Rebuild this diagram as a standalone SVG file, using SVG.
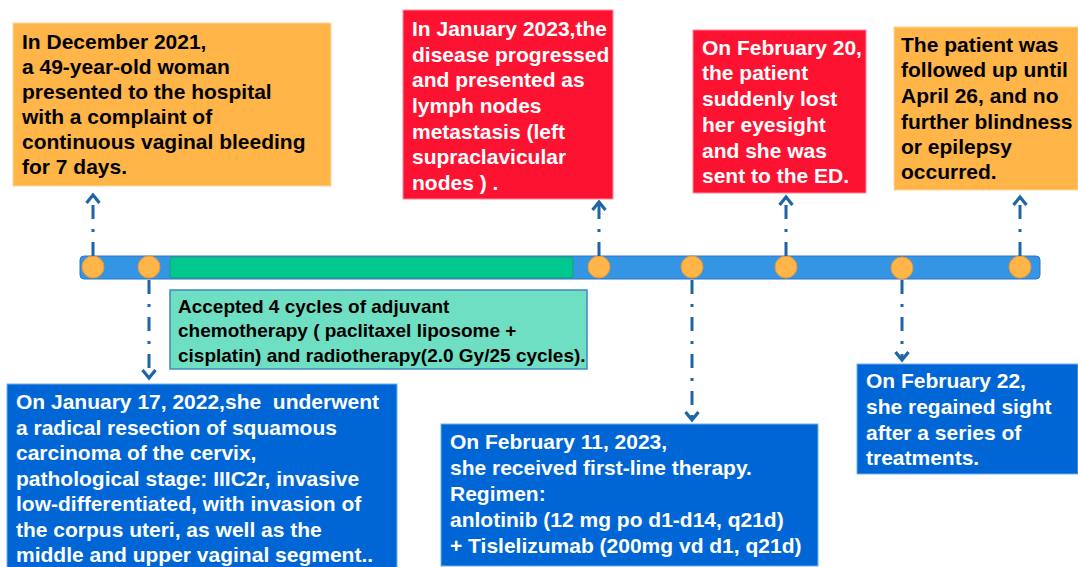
<svg xmlns="http://www.w3.org/2000/svg" width="1078" height="567" viewBox="0 0 1078 567">
<defs>
<style>
.t{font-family:"Liberation Sans",Arial,sans-serif;font-weight:bold;font-size:21px;white-space:pre}
.k{fill:#000}
.w{fill:#fff}
.org{fill:#FFB547;stroke:#FFD59A;stroke-width:1}
.red{fill:#FE1231;stroke:#FF8A9A;stroke-width:1}
.blu{fill:#0066D5;stroke:#6FB2F0;stroke-width:1}
.dot{fill:#FFB547;stroke:#E8943A;stroke-width:1}
.con{stroke:#1E64A6;stroke-width:3;fill:none;stroke-dasharray:14 10 3 10}
</style>
<marker id="ah" markerUnits="userSpaceOnUse" viewBox="-10 -10 20 20" markerWidth="20" markerHeight="20" refX="0" refY="0" orient="auto" overflow="visible">
<path d="M-8,-6.5 L0,0 L-8,6.5" fill="none" stroke="#1E64A6" stroke-width="3.2" stroke-linejoin="miter"/>
</marker>
</defs>
<rect width="1078" height="567" fill="#fff"/>

<g id="timeline">
<rect x="80" y="256" width="960" height="23" rx="4" fill="#3595E5" stroke="#2F74C0" stroke-width="1"/>
<rect x="170" y="257" width="403" height="21" rx="3" fill="#00C88F" stroke="#1F9A78" stroke-width="1"/>
<circle class="dot" cx="93" cy="267" r="11"/>
<circle class="dot" cx="149" cy="267" r="11"/>
<circle class="dot" cx="599" cy="267" r="11"/>
<circle class="dot" cx="692" cy="267" r="11"/>
<circle class="dot" cx="786" cy="267" r="11"/>
<circle class="dot" cx="902" cy="268" r="11"/>
<circle class="dot" cx="1020" cy="267" r="11"/>
</g>

<g id="connectors">
<path class="con" d="M93,256 V195" marker-end="url(#ah)"/>
<path class="con" d="M599,256 V202" marker-end="url(#ah)"/>
<path class="con" d="M786,256 V197" marker-end="url(#ah)"/>
<path class="con" d="M1020,256 V197" marker-end="url(#ah)"/>
<path class="con" d="M149,280 V378" marker-end="url(#ah)"/>
<path class="con" d="M692,280 V420" marker-end="url(#ah)"/>
<path class="con" d="M902,280 V360" marker-end="url(#ah)"/>
</g>

<g id="n-dec2021">
<rect class="org" x="13" y="23" width="318" height="163"/>
<text class="t k" x="22" y="49">In December 2021,</text>
<text class="t k" x="22" y="74">a 49-year-old woman</text>
<text class="t k" x="22" y="99">presented to the hospital</text>
<text class="t k" x="22" y="124">with a complaint of</text>
<text class="t k" x="22" y="149">continuous vaginal bleeding</text>
<text class="t k" x="22" y="174">for 7 days.</text>
</g>

<g id="n-jan2023">
<rect class="red" x="403" y="10" width="210" height="189"/>
<text class="t w" x="412" y="36">In January 2023,the</text>
<text class="t w" x="412" y="62">disease progressed</text>
<text class="t w" x="412" y="87">and presented as</text>
<text class="t w" x="412" y="113">lymph nodes</text>
<text class="t w" x="412" y="139">metastasis (left</text>
<text class="t w" x="412" y="164">supraclavicular</text>
<text class="t w" x="412" y="190">nodes ) .</text>
</g>

<g id="n-feb20">
<rect class="red" x="693" y="30" width="173" height="163"/>
<text class="t w" x="702" y="55">On February 20,</text>
<text class="t w" x="702" y="80">the patient</text>
<text class="t w" x="702" y="106">suddenly lost</text>
<text class="t w" x="702" y="132">her eyesight</text>
<text class="t w" x="702" y="158">and she was</text>
<text class="t w" x="702" y="183">sent to the ED.</text>
</g>

<g id="n-apr26">
<rect class="org" x="894" y="27" width="184" height="163"/>
<text class="t k" x="901" y="52">The patient was</text>
<text class="t k" x="901" y="77">followed up until</text>
<text class="t k" x="901" y="103">April 26, and no</text>
<text class="t k" x="901" y="129">further blindness</text>
<text class="t k" x="901" y="154">or epilepsy</text>
<text class="t k" x="901" y="179">occurred.</text>
</g>

<g id="n-chemo">
<rect x="170" y="290" width="417" height="79" fill="#6FDFC4" stroke="#3F8BC0" stroke-width="1.5"/>
<text class="t k" x="178" y="313" style="font-size:19px">Accepted 4 cycles of adjuvant</text>
<text class="t k" x="178" y="337" style="font-size:19px">chemotherapy ( paclitaxel liposome +</text>
<text class="t k" x="178" y="362" style="font-size:19px">cisplatin) and radiotherapy(2.0 Gy/25 cycles).</text>
</g>

<g id="n-jan2022">
<rect class="blu" x="7" y="384" width="390" height="190"/>
<text class="t w" x="16" y="409" xml:space="preserve">On January 17, 2022,she  underwent</text>
<text class="t w" x="16" y="435">a radical resection of squamous</text>
<text class="t w" x="16" y="460">carcinoma of the cervix,</text>
<text class="t w" x="16" y="486">pathological stage: IIIC2r, invasive</text>
<text class="t w" x="16" y="511">low-differentiated, with invasion of</text>
<text class="t w" x="16" y="537">the corpus uteri, as well as the</text>
<text class="t w" x="16" y="562">middle and upper vaginal segment..</text>
</g>

<g id="n-feb11">
<rect class="blu" x="441" y="424" width="377" height="142"/>
<text class="t w" x="450" y="449">On February 11, 2023,</text>
<text class="t w" x="450" y="475">she received first-line therapy.</text>
<text class="t w" x="450" y="501">Regimen:</text>
<text class="t w" x="450" y="527">anlotinib (12 mg po d1-d14, q21d)</text>
<text class="t w" x="450" y="553">+ Tislelizumab (200mg vd d1, q21d)</text>
</g>

<g id="n-feb22">
<rect class="blu" x="857" y="364" width="221" height="110"/>
<text class="t w" x="866" y="388">On February 22,</text>
<text class="t w" x="866" y="414">she regained sight</text>
<text class="t w" x="866" y="440">after a series of</text>
<text class="t w" x="866" y="465">treatments.</text>
</g>
</svg>
